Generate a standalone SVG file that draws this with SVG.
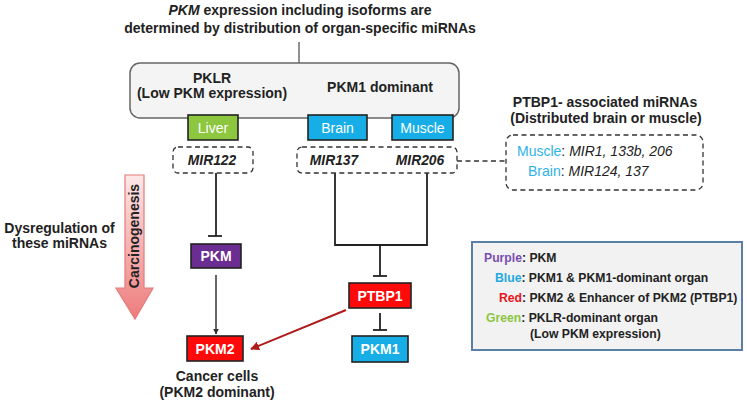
<svg xmlns="http://www.w3.org/2000/svg" width="747" height="404" viewBox="0 0 747 404">
<defs>
<linearGradient id="carc" x1="0" y1="0" x2="0" y2="1">
<stop offset="0" stop-color="#fde8e8"/>
<stop offset="1" stop-color="#ee7c7c"/>
</linearGradient>
<marker id="ah" viewBox="0 0 10 10" refX="9" refY="5" markerWidth="6" markerHeight="6" orient="auto" markerUnits="userSpaceOnUse">
<path d="M0,0 L10,5 L0,10 z" fill="#333"/>
</marker>
<marker id="ahr" viewBox="0 0 10 10" refX="9" refY="5" markerWidth="9" markerHeight="9" orient="auto" markerUnits="userSpaceOnUse">
<path d="M0,0 L10,5 L0,10 z" fill="#b01a1a"/>
</marker>
</defs>
<style>
text{font-family:"Liberation Sans",Arial,sans-serif;fill:#222}
.t{font-size:14px;font-weight:bold}
.n{font-size:14px;fill:#fff;text-anchor:middle}
.nb{font-size:14px;fill:#fff;font-weight:bold;text-anchor:middle}
.box{stroke:#222;stroke-width:1.6}
.dash{fill:none;stroke:#333;stroke-width:1.3;stroke-dasharray:5,3.5}
.ln{fill:none;stroke:#222;stroke-width:1.8}
.lg{font-size:12.2px;font-weight:bold}
.mi{font-size:13.8px;font-weight:bold;font-style:italic;text-anchor:middle}
</style>
<rect width="747" height="404" fill="#fff"/>

<g id="title">
<text class="t" x="300" y="15" text-anchor="middle"><tspan font-style="italic">PKM</tspan> expression including isoforms are</text>
<text class="t" x="300" y="33" text-anchor="middle" font-size="14.3px">determined by distribution of organ-specific miRNAs</text>
</g>

<g id="connectors">
<line x1="299" y1="42" x2="299" y2="63" stroke="#555" stroke-width="1.3"/>
<line class="ln" x1="216" y1="173" x2="216" y2="236"/>
<line class="ln" x1="208" y1="236" x2="222" y2="236"/>
<path class="ln" d="M335,173 V245 H427 V173"/>
<line class="ln" x1="380" y1="245" x2="380" y2="276"/>
<line class="ln" x1="373" y1="276" x2="387" y2="276"/>
<line class="ln" x1="380" y1="313" x2="380" y2="330"/>
<line class="ln" x1="373" y1="330" x2="387" y2="330"/>
<line x1="216" y1="275" x2="216" y2="334" stroke="#333" stroke-width="1.5" marker-end="url(#ah)"/>
<line x1="346" y1="310" x2="251" y2="349" stroke="#b01a1a" stroke-width="2" marker-end="url(#ahr)"/>
<line class="dash" x1="457" y1="161" x2="506" y2="161"/>
</g>

<g id="organ-box">
<rect x="130" y="63" width="329" height="55" rx="10" fill="#f4f4f4" stroke="#666" stroke-width="1.5"/>
<text class="t" x="212" y="83" text-anchor="middle">PKLR</text>
<text class="t" x="212" y="98" text-anchor="middle">(Low PKM expression)</text>
<text class="t" x="380" y="92" text-anchor="middle">PKM1 dominant</text>
</g>

<g id="liver">
<rect class="box" x="188" y="115" width="50" height="25" fill="#8dc63f"/>
<text class="n" x="213" y="132.5">Liver</text>
</g>
<g id="brain">
<rect class="box" x="308" y="115" width="59" height="25" fill="#17aee8"/>
<text class="n" x="337.5" y="132.5">Brain</text>
</g>
<g id="muscle">
<rect class="box" x="392" y="115" width="61" height="25" fill="#17aee8"/>
<text class="n" x="422.5" y="132.5">Muscle</text>
</g>

<g id="mir122">
<rect class="dash" x="173" y="147" width="80" height="26" rx="5"/>
<text class="mi" x="212" y="165">MIR122</text>
</g>
<g id="mir137-206">
<rect class="dash" x="297" y="147" width="160" height="26" rx="5"/>
<text class="mi" x="334" y="165">MIR137</text>
<text class="mi" x="420" y="165">MIR206</text>
</g>

<g id="ptbp1-mirnas">
<text class="t" x="605" y="107" text-anchor="middle">PTBP1- associated miRNAs</text>
<text class="t" x="606" y="123" text-anchor="middle">(Distributed brain or muscle)</text>
<rect class="dash" x="506" y="135" width="197" height="55" rx="7" fill="#ececec"/>
<text x="517" y="156" font-size="14px"><tspan fill="#2db3e8">Muscle</tspan>: <tspan font-style="italic">MIR1, 133b, 206</tspan></text>
<text x="528" y="176" font-size="14px"><tspan fill="#2db3e8">Brain</tspan>: <tspan font-style="italic">MIR124, 137</tspan></text>
</g>

<g id="carcinogenesis">
<path d="M125,175 H144 V288 H153 L135,319 L116,288 H125 Z" fill="url(#carc)" stroke="#e57b7b" stroke-width="1.2"/>
<text class="t" x="0" y="0" text-anchor="middle" transform="translate(139,236) rotate(-90)">Carcinogenesis</text>
</g>

<g id="dysregulation">
<text class="t" x="59.5" y="233" text-anchor="middle">Dysregulation of</text>
<text class="t" x="59.5" y="248" text-anchor="middle">these miRNAs</text>
</g>

<g id="pkm">
<rect class="box" x="191" y="244" width="50" height="24" fill="#6b2d91"/>
<text class="nb" x="216" y="261">PKM</text>
</g>
<g id="ptbp1">
<rect class="box" x="349" y="283" width="62" height="25" fill="#ff0a0a"/>
<text class="nb" x="380" y="300.5">PTBP1</text>
</g>
<g id="pkm2">
<rect class="box" x="187" y="336" width="56" height="25" fill="#ff0a0a"/>
<text class="nb" x="215" y="353.5">PKM2</text>
</g>
<g id="pkm1">
<rect class="box" x="352" y="336" width="56" height="26" fill="#17aee8"/>
<text class="nb" x="380" y="354">PKM1</text>
</g>

<g id="cancer-cells">
<text class="t" x="217" y="381" text-anchor="middle">Cancer cells</text>
<text class="t" x="217" y="397" text-anchor="middle">(PKM2 dominant)</text>
</g>

<g id="legend">
<rect x="472" y="242" width="270" height="108" fill="#f2f2f2" stroke="#5a7ea6" stroke-width="2"/>
<text class="lg" x="484" y="262"><tspan fill="#7b4db3">Purple</tspan>: PKM</text>
<text class="lg" x="495" y="282"><tspan fill="#1fa9e1">Blue</tspan>: PKM1 &amp; PKM1-dominant organ</text>
<text class="lg" x="499" y="302"><tspan fill="#e8141c">Red</tspan>: PKM2 &amp; Enhancer of PKM2 (PTBP1)</text>
<text class="lg" x="486" y="322"><tspan fill="#8dc63f">Green</tspan>: PKLR-dominant organ</text>
<text class="lg" x="530" y="338">(Low PKM expression)</text>
</g>
</svg>
